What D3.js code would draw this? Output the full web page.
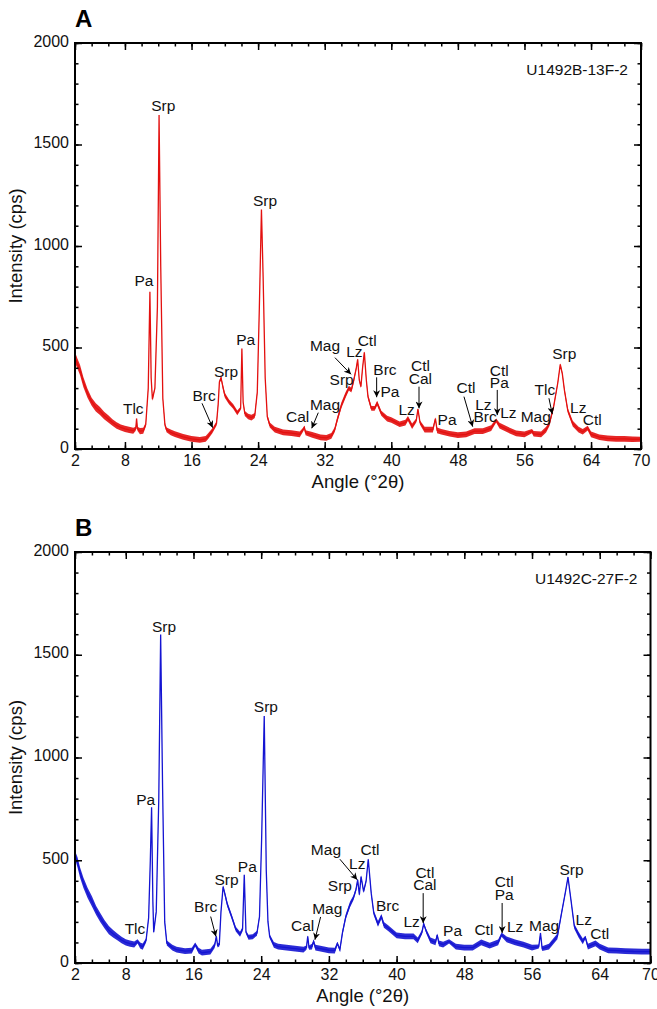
<!DOCTYPE html>
<html>
<head>
<meta charset="utf-8">
<style>
body { margin: 0; background: #fff; }
svg { font-family: "Liberation Sans", Arial, sans-serif; }
.tick text { font-size: 16px; fill: #111; }
.domain { display: none; }
.tick line { stroke: #000; stroke-width: 1.5; }
.peak { font-size: 15.5px; fill: #111; text-anchor: middle; }
</style>
</head>
<body>
<svg width="657" height="1009"></svg>
<script src="https://d3js.org/d3.v7.min.js"></script>
<script>
// tick labels
var xTickLabels = [2, 8, 16, 24, 32, 40, 48, 56, 64, 70];
var yTickLabels = [0, 500, 1000, 1500, 2000];

// XRD pattern A: [angle °2θ, intensity cps, noise half-width cps]
var patternA = [
  [2.0,480,10],[2.1,440,25],[2.3,420,25],[2.6,390,25],[3.0,330,25],[3.5,275,22],[4.0,233,20],
  [4.5,205,20],[5.0,187,20],[5.5,165,18],[6.0,148,18],[6.5,130,16],[7.0,116,16],[7.5,106,15],
  [8.0,99,15],[8.5,94,15],[9.0,90,15],[9.3,100,10],[9.4,150,5],[9.5,100,10],[9.8,88,15],
  [10.2,90,15],[10.5,120,10],[10.8,300,5],[11.0,775,5],[11.15,350,5],[11.3,245,8],[11.6,300,5],
  [11.9,700,5],[12.1,1645,5],[12.3,900,5],[12.55,250,5],[12.8,120,10],[13.0,94,12],[13.5,82,14],
  [14.0,73,14],[15.0,60,14],[16.0,50,14],[17.0,45,14],[17.7,50,14],[18.0,63,14],[18.5,90,12],
  [19.0,125,10],[19.2,220,8],[19.35,330,8],[19.55,350,8],[19.8,300,12],[20.0,265,12],[20.5,232,12],
  [21.0,210,12],[21.5,178,12],[21.9,200,8],[22.05,495,5],[22.2,230,8],[22.4,175,12],[22.8,160,14],
  [23.2,155,14],[23.6,165,12],[23.9,280,6],[24.15,700,5],[24.4,1180,5],[24.6,850,5],[24.85,350,6],
  [25.1,160,10],[25.4,118,12],[26.0,95,14],[27.0,82,14],[28.0,78,14],[29.0,72,14],[29.4,95,10],
  [29.55,107,8],[29.7,80,12],[30.5,70,14],[31.5,57,14],[32.2,55,14],[32.8,65,14],[33.2,95,12],
  [33.5,143,12],[34.0,215,14],[34.5,265,14],[34.9,300,12],[35.2,290,12],[35.5,340,12],[35.8,400,8],
  [35.96,442,5],[36.15,340,8],[36.35,307,8],[36.55,400,8],[36.76,476,5],[37.0,340,10],[37.2,258,12],
  [37.6,200,12],[38.0,200,12],[38.3,226,12],[38.8,176,12],[39.5,150,14],[40.0,143,14],[41.0,122,14],
  [41.7,130,14],[42.0,150,12],[42.5,112,14],[43.0,140,10],[43.2,197,5],[43.45,130,10],[44.0,95,14],
  [45.0,95,14],[45.3,150,6],[45.5,92,14],[46.0,85,14],[47.0,75,14],[48.0,68,14],[49.0,72,14],
  [50.0,88,14],[51.0,88,14],[52.0,103,14],[52.6,140,10],[53.0,115,14],[54.0,95,14],[55.0,77,14],
  [56.0,72,14],[56.9,88,10],[57.1,75,14],[58.0,72,14],[58.6,95,14],[59.0,125,12],[59.5,208,10],
  [60.0,325,8],[60.3,417,5],[60.55,370,8],[60.8,290,10],[61.2,190,12],[61.8,125,14],[62.5,95,14],
  [63.0,85,14],[63.6,103,12],[64.0,72,14],[65.0,58,14],[66.0,52,14],[67.0,50,14],[68.0,50,14],
  [69.0,48,14],[70.0,48,12]
];

// XRD pattern B
var patternB = [
  [2.0,600,5],[2.05,520,20],[2.3,490,25],[2.6,440,25],[3.0,390,25],[3.5,340,25],[4.0,300,25],
  [4.5,255,22],[5.0,220,22],[5.5,188,20],[6.0,160,20],[6.5,142,18],[7.0,127,16],[7.5,112,16],
  [8.0,100,15],[8.5,94,15],[9.0,90,15],[9.4,105,10],[9.7,85,15],[10.0,80,15],[10.4,110,10],
  [10.7,220,6],[10.9,500,5],[11.05,758,5],[11.2,300,5],[11.3,150,8],[11.6,250,5],[11.9,800,5],
  [12.12,1599,5],[12.35,850,5],[12.6,200,8],[12.85,97,12],[13.5,75,14],[14.0,65,14],[15.0,58,14],
  [15.8,60,14],[16.2,90,10],[16.6,60,14],[17.0,50,14],[18.0,55,14],[18.5,85,12],[18.7,130,6],
  [18.85,85,10],[19.05,90,10],[19.25,250,8],[19.5,372,6],[19.8,320,12],[20.0,285,12],[20.5,227,12],
  [21.0,165,12],[21.5,140,12],[21.8,165,10],[22.0,429,5],[22.2,150,8],[22.5,125,12],[23.0,128,12],
  [23.5,145,12],[23.8,226,8],[24.05,600,5],[24.36,1202,5],[24.6,450,6],[24.8,200,8],[25.0,130,10],
  [25.5,88,14],[26.0,80,14],[27.0,75,14],[28.0,70,14],[29.0,65,14],[29.35,75,10],[29.5,130,5],
  [29.65,75,10],[30.0,80,14],[30.2,105,8],[30.4,75,14],[31.0,70,14],[32.0,62,14],[32.7,60,14],
  [33.0,95,8],[33.3,65,10],[33.6,147,12],[34.0,226,12],[34.5,285,14],[34.9,317,12],[35.2,357,10],
  [35.4,405,6],[35.6,332,8],[35.8,421,6],[36.1,348,8],[36.4,400,8],[36.65,505,5],[37.0,340,10],
  [37.3,244,12],[37.8,190,14],[38.2,226,12],[38.5,185,14],[39.0,170,14],[40.0,135,14],[41.0,130,14],
  [42.0,130,14],[42.5,110,14],[43.0,150,10],[43.2,191,5],[43.5,155,10],[44.0,110,14],[44.6,100,14],
  [44.8,137,6],[45.0,95,14],[45.5,90,14],[46.2,105,10],[47.0,80,14],[48.0,75,14],[49.0,75,14],
  [50.0,100,14],[51.0,85,14],[52.0,100,14],[52.4,138,10],[53.0,115,14],[54.0,100,14],[55.0,90,14],
  [56.0,75,14],[56.8,80,10],[57.0,146,5],[57.2,70,12],[58.0,80,14],[59.0,130,14],[59.5,245,10],
  [60.0,357,8],[60.25,418,5],[60.6,307,8],[61.0,178,12],[61.5,138,14],[62.0,105,14],[62.3,125,8],
  [62.6,80,14],[63.5,95,14],[64.0,80,14],[65.0,62,14],[66.0,60,14],[67.0,58,14],[68.0,56,14],
  [69.0,55,14],[70.0,55,14]
];

// mineral labels: [text, angle, intensity]
var peakLabelsA = [
  ["Srp",12.6,1665],["Srp",24.83,1197],["Pa",10.29,803],["Tlc",9.0,172],["Pa",22.5,512],
  ["Srp",20.14,353],["Brc",17.5,238],["Cal",28.75,134],["Mag",32.03,192],["Mag",32.03,483],
  ["Srp",34.04,315],["Lz",35.56,455],["Ctl",37.1,507],["Brc",39.24,365],["Pa",39.84,254],
  ["Lz",41.85,167],["Ctl",43.5,386],["Cal",43.5,320],["Pa",46.7,118],["Ctl",48.97,277],
  ["Lz",51.06,192],["Brc",51.26,134],["Ctl",52.98,360],["Pa",52.98,299],["Lz",54.06,151],
  ["Mag",57.35,134],["Tlc",58.46,266],["Srp",60.78,442],["Lz",62.46,176],["Ctl",64.15,118]
];
var peakLabelsB = [
  ["Srp",12.51,1611],["Srp",24.56,1223],["Pa",10.35,769],["Tlc",9.09,142],["Brc",17.44,246],
  ["Srp",19.9,380],["Pa",22.36,445],["Cal",28.9,154],["Mag",31.8,240],["Mag",31.65,526],
  ["Srp",33.3,348],["Lz",35.35,457],["Ctl",36.85,526],["Brc",38.94,251],["Lz",41.77,175],
  ["Ctl",43.34,413],["Cal",43.34,353],["Pa",46.61,129],["Ctl",50.31,137],["Ctl",52.71,369],
  ["Pa",52.71,308],["Lz",54.0,149],["Mag",57.43,158],["Srp",60.66,429],["Lz",62.12,186],
  ["Ctl",64.01,117]
];

// pointer arrows: [angle from, intensity from, angle to, intensity to]
var arrowsA = [
  [17.26,225,18.54,105],[31.23,179,30.44,102],[33.23,450,35.16,368],[38.24,353,38.24,255],
  [43.33,307,43.33,200],[48.73,258,49.78,110],[52.73,291,52.73,167],[58.94,250,59.34,172]
];
var arrowsB = [
  [18.03,226,18.65,129],[31.02,224,30.35,113],[33.3,505,35.35,405],[43.14,340,43.14,194],
  [52.47,292,52.47,146]
];

var svg = d3.select("svg");

svg.append("defs").append("marker")
    .attr("id", "head")
    .attr("viewBox", "0 0 10 10")
    .attr("refX", 10).attr("refY", 5)
    .attr("markerWidth", 7).attr("markerHeight", 7)
    .attr("markerUnits", "userSpaceOnUse")
    .attr("orient", "auto")
  .append("path")
    .attr("d", "M0,0L10,5L0,10L3,5Z")
    .attr("fill", "#000");

function panel(p) {
  var x = d3.scaleLinear().domain([2, 70]).range([p.left, p.right]);
  var y = d3.scaleLinear().domain([0, 2000]).range([p.bottom, p.top]);
  var g = svg.append("g");

  // noise band + trace
  g.append("path")
    .datum(p.data)
    .attr("fill", p.color)
    .attr("fill-opacity", 0.9)
    .attr("d", d3.area()
      .x(function(d) { return x(d[0]); })
      .y0(function(d) { return y(Math.max(0, d[1] - d[2])); })
      .y1(function(d) { return y(d[1] + d[2]); }));
  g.append("path")
    .datum(p.data)
    .attr("fill", "none")
    .attr("stroke", p.color)
    .attr("stroke-width", 1.3)
    .attr("d", d3.line()
      .x(function(d) { return x(d[0]); })
      .y(function(d) { return y(d[1]); }));

  var xMinor = d3.range(2, 71, 2);
  var yMinor = d3.range(0, 2001, 100);

  // minor ticks on all four sides
  g.append("g").attr("transform", "translate(0," + p.bottom + ")")
    .call(d3.axisBottom(x).tickValues(xMinor).tickSize(-3.5).tickFormat(""));
  g.append("g").attr("transform", "translate(0," + p.top + ")")
    .call(d3.axisTop(x).tickValues(xMinor).tickSize(-3.5).tickFormat(""));
  g.append("g").attr("transform", "translate(" + p.left + ",0)")
    .call(d3.axisLeft(y).tickValues(yMinor).tickSize(-3.5).tickFormat(""));
  g.append("g").attr("transform", "translate(" + p.right + ",0)")
    .call(d3.axisRight(y).tickValues(yMinor).tickSize(-3.5).tickFormat(""));

  // major ticks
  g.append("g").attr("transform", "translate(0," + p.bottom + ")")
    .call(d3.axisBottom(x).tickValues(xTickLabels).tickSize(-7).tickPadding(6).tickFormat(d3.format("d")));
  g.append("g").attr("transform", "translate(0," + p.top + ")")
    .call(d3.axisTop(x).tickValues(xTickLabels).tickSize(-7).tickFormat(""));
  g.append("g").attr("transform", "translate(" + p.left + ",0)")
    .call(d3.axisLeft(y).tickValues(yTickLabels).tickSize(-7).tickPadding(6).tickFormat(d3.format("d")))
    .selectAll("text").attr("dy", "0.2em");
  g.append("g").attr("transform", "translate(" + p.right + ",0)")
    .call(d3.axisRight(y).tickValues(yTickLabels).tickSize(-7).tickFormat(""));

  g.append("rect")
    .attr("x", p.left).attr("y", p.top)
    .attr("width", p.right - p.left).attr("height", p.bottom - p.top)
    .attr("fill", "none").attr("stroke", "#000").attr("stroke-width", 2);

  // arrows
  g.selectAll(".arrow").data(p.arrows).enter().append("line")
    .attr("x1", function(d) { return x(d[0]); })
    .attr("y1", function(d) { return y(d[1]); })
    .attr("x2", function(d) { return x(d[2]); })
    .attr("y2", function(d) { return y(d[3]); })
    .attr("stroke", "#000").attr("stroke-width", 1)
    .attr("marker-end", "url(#head)");

  // mineral labels
  g.selectAll(".peak").data(p.labels).enter().append("text")
    .attr("class", "peak")
    .attr("x", function(d) { return x(d[1]); })
    .attr("y", function(d) { return y(d[2]); })
    .text(function(d) { return d[0]; });

  g.append("text")
    .attr("x", p.right - 13).attr("y", p.top + 32)
    .attr("text-anchor", "end").attr("font-size", 15.5).attr("fill", "#111")
    .text(p.sample);

  g.append("text")
    .attr("x", p.left).attr("y", p.top - 16)
    .attr("font-size", 24).attr("font-weight", "bold")
    .text(p.letter);

  g.append("text")
    .attr("transform", "translate(22," + (p.top + p.bottom) / 2 + ") rotate(-90)")
    .attr("text-anchor", "middle").attr("font-size", 18.5).attr("fill", "#111")
    .text("Intensity (cps)");

  g.append("text")
    .attr("x", (p.left + p.right) / 2).attr("y", p.bottom + 39)
    .attr("text-anchor", "middle").attr("font-size", 18.5).attr("fill", "#111")
    .text("Angle (°2θ)");
}

panel({ left: 75, right: 641, top: 43, bottom: 449, data: patternA, labels: peakLabelsA,
        arrows: arrowsA, sample: "U1492B-13F-2", letter: "A", color: "#e3100f" });
panel({ left: 75, right: 650.5, top: 552, bottom: 963, data: patternB, labels: peakLabelsB,
        arrows: arrowsB, sample: "U1492C-27F-2", letter: "B", color: "#1414d2" });
</script>
</body>
</html>
